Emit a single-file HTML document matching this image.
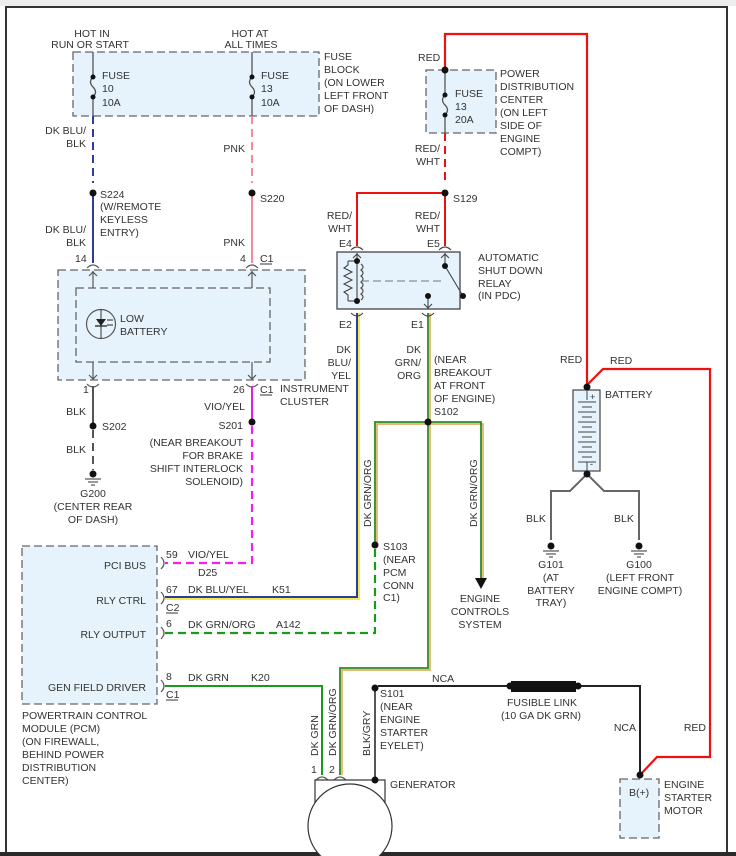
<!DOCTYPE html>
<html><head><meta charset="utf-8"><style>
html,body{margin:0;padding:0;background:#fff}
svg{display:block}
text{font-family:"Liberation Sans",sans-serif;font-size:10.5px;fill:#333}
.r{text-anchor:end}.m{text-anchor:middle}
</style></head><body>
<svg width="736" height="856" viewBox="0 0 736 856">
<rect x="0" y="0" width="736" height="856" fill="#fff"/>
<rect x="0" y="0" width="736" height="6" fill="#eee"/>
<rect x="6" y="7" width="721" height="850" fill="none" stroke="#333" stroke-width="2"/>
<rect x="0" y="852" width="736" height="4" fill="#2a2a2a"/>

<!-- fuse block -->
<rect x="73" y="52" width="246" height="64" fill="#e6f3fc" stroke="#666" stroke-dasharray="8,4" stroke-width="1.3"/>
<text class="m" x="92" y="37">HOT IN</text><text class="m" x="90" y="48">RUN OR START</text>
<text class="m" x="250" y="37">HOT AT</text><text class="m" x="251" y="48">ALL TIMES</text>
<g stroke="#555" stroke-width="1.3" fill="none">
<line x1="93" y1="52" x2="93" y2="77"/><line x1="93" y1="97" x2="93" y2="116"/>
<path d="M93 77 q-5 5 0 10 q5 5 0 10"/>
<line x1="252" y1="52" x2="252" y2="77"/><line x1="252" y1="97" x2="252" y2="116"/>
<path d="M252 77 q-5 5 0 10 q5 5 0 10"/>
</g>
<g fill="#111"><circle cx="93" cy="77" r="2.5"/><circle cx="93" cy="97" r="2.5"/><circle cx="252" cy="77" r="2.5"/><circle cx="252" cy="97" r="2.5"/></g>
<text x="102" y="79">FUSE</text><text x="102" y="92">10</text><text x="102" y="106">10A</text>
<text x="261" y="79">FUSE</text><text x="261" y="92">13</text><text x="261" y="106">10A</text>
<text x="324" y="60">FUSE</text><text x="324" y="73">BLOCK</text><text x="324" y="86">(ON LOWER</text><text x="324" y="99">LEFT FRONT</text><text x="324" y="112">OF DASH)</text>

<!-- left wires -->
<line x1="93" y1="116" x2="93" y2="183" stroke="#2a3f9a" stroke-width="2" stroke-dasharray="8,5"/>
<line x1="252" y1="116" x2="252" y2="183" stroke="#f28aa0" stroke-width="2" stroke-dasharray="8,5"/>
<line x1="93" y1="193" x2="93" y2="263" stroke="#2a3f9a" stroke-width="2"/>
<line x1="252" y1="193" x2="252" y2="263" stroke="#f28aa0" stroke-width="2"/>
<circle cx="93" cy="193" r="3.5" fill="#111"/><circle cx="252" cy="193" r="3.5" fill="#111"/>
<text class="r" x="86" y="134">DK BLU/</text><text class="r" x="86" y="147">BLK</text>
<text class="r" x="245" y="152">PNK</text>
<text x="100" y="198">S224</text><text x="100" y="210">(W/REMOTE</text><text x="100" y="223">KEYLESS</text><text x="100" y="236">ENTRY)</text>
<text x="260" y="202">S220</text>
<text class="r" x="86" y="233">DK BLU/</text><text class="r" x="86" y="246">BLK</text>
<text class="r" x="245" y="246">PNK</text>
<text x="75" y="262">14</text><text x="240" y="262">4</text><text x="260" y="262">C1</text>
<line x1="260" y1="264" x2="272" y2="264" stroke="#333"/>

<!-- instrument cluster -->
<rect x="58" y="270" width="247" height="110" fill="#e6f3fc" stroke="#666" stroke-dasharray="8,4" stroke-width="1.3"/>
<rect x="76" y="288" width="194" height="74" fill="none" stroke="#666" stroke-dasharray="8,4" stroke-width="1.3"/>
<g stroke="#555" stroke-width="1.2" fill="none">
<path d="M87 268 q6 -6 12 0"/><path d="M246 268 q6 -6 12 0"/>
<line x1="93" y1="271" x2="93" y2="288"/><path d="M89 276 l4 -4 l4 4"/>
<line x1="252" y1="271" x2="252" y2="288"/><path d="M248 276 l4 -4 l4 4"/>
<line x1="93" y1="362" x2="93" y2="380"/><path d="M89 375 l4 4 l4 -4"/>
<line x1="252" y1="362" x2="252" y2="380"/><path d="M248 375 l4 4 l4 -4"/>
<path d="M87 384 q6 6 12 0"/><path d="M246 384 q6 6 12 0"/>
<circle cx="101" cy="324" r="14.5"/>
<line x1="101" y1="310" x2="101" y2="338"/>
</g>
<path d="M96 319 h10 l-5 7 z" fill="#222"/><line x1="95" y1="326" x2="107" y2="326" stroke="#222" stroke-width="1.3"/>
<path d="M107 320 h6 M107 325 h6" stroke="#222" stroke-width="1"/>
<text x="120" y="322">LOW</text><text x="120" y="335">BATTERY</text>
<text x="83" y="393">1</text><text x="233" y="393">26</text><text x="260" y="393">C1</text>
<line x1="260" y1="395" x2="272" y2="395" stroke="#333"/>
<text x="280" y="392">INSTRUMENT</text><text x="280" y="405">CLUSTER</text>

<!-- BLK to G200 -->
<line x1="93" y1="386" x2="93" y2="426" stroke="#555" stroke-width="2"/>
<line x1="93" y1="430" x2="93" y2="470" stroke="#555" stroke-width="2" stroke-dasharray="8,5"/>
<circle cx="93" cy="426" r="3.5" fill="#111"/>
<text class="r" x="86" y="415">BLK</text><text x="102" y="430">S202</text><text class="r" x="86" y="453">BLK</text>
<circle cx="93" cy="474" r="3.5" fill="#111"/>
<g stroke="#333"><line x1="85" y1="479" x2="101" y2="479"/><line x1="88" y1="482" x2="98" y2="482"/><line x1="91" y1="485" x2="95" y2="485"/></g>
<text class="m" x="93" y="497">G200</text><text class="m" x="93" y="510">(CENTER REAR</text><text class="m" x="93" y="523">OF DASH)</text>

<!-- VIO/YEL -->
<line x1="252" y1="386" x2="252" y2="422" stroke="#e020e0" stroke-width="2"/>
<circle cx="252" cy="422" r="3.5" fill="#111"/>
<polyline points="252,426 252,563 165,563" fill="none" stroke="#f020f0" stroke-width="2.2" stroke-dasharray="8,5"/>
<text class="r" x="245" y="410">VIO/YEL</text>
<text class="r" x="243" y="429">S201</text>
<text class="r" x="243" y="446">(NEAR BREAKOUT</text><text class="r" x="243" y="459">FOR BRAKE</text><text class="r" x="243" y="472">SHIFT INTERLOCK</text><text class="r" x="243" y="485">SOLENOID)</text>

<!-- PCM -->
<rect x="22" y="546" width="135" height="158" fill="#e6f3fc" stroke="#666" stroke-dasharray="8,4" stroke-width="1.3"/>
<text class="r" x="146" y="569">PCI BUS</text><text class="r" x="146" y="604">RLY CTRL</text><text class="r" x="146" y="638">RLY OUTPUT</text><text class="r" x="146" y="691">GEN FIELD DRIVER</text>
<g stroke="#555" fill="none" stroke-width="1.2">
<path d="M161 557 q6 6 0 12"/><path d="M161 592 q6 6 0 12"/><path d="M161 627 q6 6 0 12"/><path d="M161 680 q6 6 0 12"/>
</g>
<text x="166" y="558">59</text><text x="188" y="558">VIO/YEL</text><text x="198" y="576">D25</text>
<text x="166" y="593">67</text><text x="188" y="593">DK BLU/YEL</text><text x="272" y="593">K51</text>
<text x="166" y="611">C2</text><line x1="166" y1="613" x2="178" y2="613" stroke="#333"/>
<text x="166" y="627">6</text><text x="188" y="628">DK GRN/ORG</text><text x="276" y="628">A142</text>
<text x="166" y="680">8</text><text x="188" y="681">DK GRN</text><text x="251" y="681">K20</text>
<text x="166" y="698">C1</text><line x1="166" y1="700" x2="178" y2="700" stroke="#333"/>
<text x="22" y="719">POWERTRAIN CONTROL</text><text x="22" y="732">MODULE (PCM)</text><text x="22" y="745">(ON FIREWALL,</text><text x="22" y="758">BEHIND POWER</text><text x="22" y="771">DISTRIBUTION</text><text x="22" y="784">CENTER)</text>

<!-- DK BLU/YEL from relay -->
<polyline points="359,313 359,599 165,599" fill="none" stroke="#f0e020" stroke-width="1.5"/>
<polyline points="357,313 357,597 165,597" fill="none" stroke="#2a3f9a" stroke-width="2"/>
<!-- green dashed RLY OUTPUT -->
<polyline points="375,549 375,633 165,633" fill="none" stroke="#1a9a1a" stroke-width="2.2" stroke-dasharray="8,5"/>
<!-- green K20 -->
<polyline points="165,686 322,686 322,775" fill="none" stroke="#1a9a1a" stroke-width="2"/>
<!-- DK GRN/ORG tree -->
<g fill="none" stroke="#e0a040" stroke-width="1.4">
<polyline points="430,313 430,670 342,670 342,775"/>
<polyline points="377,545 377,424 483,424 483,578"/>
</g>
<g fill="none" stroke="#2a8a2a" stroke-width="1.8">
<polyline points="428,313 428,668 340,668 340,775"/>
<polyline points="375,545 375,422 481,422 481,578"/>
</g>
<path d="M475 578 h12 l-6 11 z" fill="#111"/>
<circle cx="428" cy="422" r="3.5" fill="#111"/><circle cx="375" cy="545" r="3.5" fill="#111"/>
<text class="r" x="351" y="353">DK</text><text class="r" x="351" y="366">BLU/</text><text class="r" x="351" y="379">YEL</text>
<text class="r" x="421" y="353">DK</text><text class="r" x="421" y="366">GRN/</text><text class="r" x="421" y="379">ORG</text>
<text x="434" y="363">(NEAR</text><text x="434" y="376">BREAKOUT</text><text x="434" y="389">AT FRONT</text><text x="434" y="402">OF ENGINE)</text><text x="434" y="415">S102</text>
<text transform="translate(371,527) rotate(-90)">DK GRN/ORG</text>
<text transform="translate(477,527) rotate(-90)">DK GRN/ORG</text>
<text x="383" y="550">S103</text><text x="383" y="563">(NEAR</text><text x="383" y="576">PCM</text><text x="383" y="589">CONN</text><text x="383" y="601">C1)</text>
<text class="m" x="480" y="602">ENGINE</text><text class="m" x="480" y="615">CONTROLS</text><text class="m" x="480" y="628">SYSTEM</text>

<!-- generator -->
<text transform="translate(318,756) rotate(-90)">DK GRN</text>
<text transform="translate(336,756) rotate(-90)">DK GRN/ORG</text>
<text transform="translate(370,756) rotate(-90)">BLK/GRY</text>
<line x1="375" y1="688" x2="375" y2="780" stroke="#555" stroke-width="2"/>
<circle cx="375" cy="688" r="3.5" fill="#111"/>
<text x="311" y="773">1</text><text x="329" y="773">2</text>
<g stroke="#555" fill="none" stroke-width="1.2"><path d="M316 780 q6 -6 12 0"/><path d="M334 780 q6 -6 12 0"/></g>
<rect x="315" y="780" width="70" height="40" fill="#fff" stroke="#333" stroke-width="1.2"/>
<circle cx="350" cy="826" r="42" fill="#fff" stroke="#333" stroke-width="1.2"/>
<circle cx="375" cy="780" r="3.5" fill="#111"/>
<text x="390" y="788">GENERATOR</text>
<text x="380" y="697">S101</text><text x="380" y="710">(NEAR</text><text x="380" y="723">ENGINE</text><text x="380" y="736">STARTER</text><text x="380" y="749">EYELET)</text>

<!-- NCA / fusible link -->
<polyline points="378,686 510,686" stroke="#222" stroke-width="2" fill="none"/>
<polyline points="578,686 640,686 640,775" stroke="#222" stroke-width="2" fill="none"/>
<rect x="511" y="681" width="65" height="11" fill="#111"/>
<circle cx="510" cy="686" r="3.5" fill="#111"/><circle cx="578" cy="686" r="3.5" fill="#111"/>
<text x="432" y="682">NCA</text>
<text class="m" x="542" y="706">FUSIBLE LINK</text><text class="m" x="541" y="719">(10 GA DK GRN)</text>
<text class="r" x="636" y="731">NCA</text>

<!-- starter -->
<rect x="620" y="779" width="39" height="59" fill="#e6f3fc" stroke="#666" stroke-dasharray="8,4" stroke-width="1.3"/>
<text x="629" y="796">B(+)</text>
<text x="664" y="788">ENGINE</text><text x="664" y="801">STARTER</text><text x="664" y="814">MOTOR</text>
<polyline points="640,775 657,757 710,757 710,369 603,369 587,385" fill="none" stroke="#ee1111" stroke-width="2.2"/>
<circle cx="640" cy="775" r="3.5" fill="#111"/>
<text class="r" x="706" y="731">RED</text>
<text x="610" y="364">RED</text><text x="560" y="363">RED</text>

<!-- PDC -->
<polyline points="445,70 445,34 587,34 587,387" fill="none" stroke="#ee1111" stroke-width="2.2"/>
<rect x="426" y="70" width="70" height="63" fill="#e6f3fc" stroke="#666" stroke-dasharray="8,4" stroke-width="1.3"/>
<g stroke="#555" stroke-width="1.3" fill="none">
<line x1="445" y1="70" x2="445" y2="95"/><line x1="445" y1="115" x2="445" y2="133"/>
<path d="M445 95 q-5 5 0 10 q5 5 0 10"/>
</g>
<g fill="#111"><circle cx="445" cy="70" r="3.5"/><circle cx="445" cy="95" r="2.5"/><circle cx="445" cy="115" r="2.5"/></g>
<text x="418" y="61">RED</text>
<text x="455" y="97">FUSE</text><text x="455" y="110">13</text><text x="455" y="123">20A</text>
<text x="500" y="77">POWER</text><text x="500" y="90">DISTRIBUTION</text><text x="500" y="103">CENTER</text><text x="500" y="116">(ON LEFT</text><text x="500" y="129">SIDE OF</text><text x="500" y="142">ENGINE</text><text x="500" y="155">COMPT)</text>
<line x1="445" y1="133" x2="445" y2="183" stroke="#ee1111" stroke-width="2" stroke-dasharray="8,5"/>
<text class="r" x="440" y="152">RED/</text><text class="r" x="440" y="165">WHT</text>
<polyline points="443,193 357,193 357,246" fill="none" stroke="#ee1111" stroke-width="2"/>
<line x1="445" y1="193" x2="445" y2="246" stroke="#ee1111" stroke-width="2"/>
<circle cx="445" cy="193" r="3.5" fill="#111"/>
<text x="453" y="202">S129</text>
<text class="r" x="352" y="219">RED/</text><text class="r" x="352" y="232">WHT</text>
<text class="r" x="440" y="219">RED/</text><text class="r" x="440" y="232">WHT</text>
<text x="339" y="247">E4</text><text x="427" y="247">E5</text>

<!-- relay -->
<rect x="337" y="252" width="123" height="57" fill="#e6f3fc" stroke="#444" stroke-width="1.3"/>
<g stroke="#444" stroke-width="1.1" fill="none">
<path d="M351 250 q6 -6 12 0"/><path d="M439 250 q6 -6 12 0"/>
<path d="M351 313 q6 6 12 0"/><path d="M422 313 q6 6 12 0"/>
<line x1="357" y1="253" x2="357" y2="301"/><path d="M353 258 l4 -4 l4 4"/>
<line x1="357" y1="261" x2="348" y2="261"/><line x1="357" y1="301" x2="348" y2="301"/>
<path d="M348 261 v4 l-4 3 l8 4 l-8 4 l8 4 l-8 4 l8 4 l-8 4 l4 3 v6"/>
<path d="M361 264 q4 3 0 6 q4 3 0 6 q4 3 0 6 q4 3 0 6 q4 3 0 6 q4 3 0 6"/>
<line x1="361" y1="281" x2="445" y2="281" stroke-dasharray="8,4" stroke="#777"/>
<line x1="445" y1="253" x2="445" y2="266"/><path d="M441 258 l4 -4 l4 4"/>
<line x1="445" y1="266" x2="463" y2="296"/>
<line x1="428" y1="296" x2="428" y2="309"/><path d="M424 304 l4 4 l4 -4"/>
</g>
<g fill="#111"><circle cx="357" cy="261" r="3"/><circle cx="357" cy="301" r="3"/><circle cx="445" cy="266" r="3"/><circle cx="463" cy="296" r="3"/><circle cx="428" cy="296" r="3"/></g>
<text x="339" y="328">E2</text><text x="411" y="328">E1</text>
<text x="478" y="261">AUTOMATIC</text><text x="478" y="274">SHUT DOWN</text><text x="478" y="287">RELAY</text><text x="478" y="299">(IN PDC)</text>

<!-- battery -->
<rect x="573" y="390" width="27" height="81" fill="#e6f3fc" stroke="#444" stroke-width="1.2"/>
<circle cx="587" cy="387" r="3.5" fill="#111"/>
<text x="590" y="400" style="font-size:9px">+</text>
<text x="590" y="467" style="font-size:9px">-</text>
<g stroke="#444" stroke-width="1">
<line x1="587" y1="390" x2="587" y2="400"/>
<line x1="578" y1="402" x2="596" y2="402"/><line x1="582" y1="407" x2="592" y2="407"/>
<line x1="578" y1="412" x2="596" y2="412"/><line x1="582" y1="417" x2="592" y2="417"/>
<line x1="578" y1="422" x2="596" y2="422"/><line x1="582" y1="427" x2="592" y2="427"/>
<line x1="578" y1="432" x2="596" y2="432"/><line x1="582" y1="437" x2="592" y2="437"/>
<line x1="578" y1="442" x2="596" y2="442"/><line x1="582" y1="447" x2="592" y2="447"/>
<line x1="578" y1="452" x2="596" y2="452"/><line x1="582" y1="457" x2="592" y2="457"/>
<line x1="578" y1="462" x2="596" y2="462"/>
<line x1="587" y1="462" x2="587" y2="474"/>
</g>
<text x="605" y="398">BATTERY</text>
<polyline points="551,540 551,491 570,491 587,474 604,491 639,491 639,540" fill="none" stroke="#666" stroke-width="2"/>
<circle cx="587" cy="474" r="3.5" fill="#111"/>
<text x="526" y="522">BLK</text><text x="614" y="522">BLK</text>
<circle cx="551" cy="546" r="3.5" fill="#111"/><circle cx="639" cy="546" r="3.5" fill="#111"/>
<g stroke="#333"><line x1="543" y1="551" x2="559" y2="551"/><line x1="546" y1="554" x2="556" y2="554"/><line x1="549" y1="557" x2="553" y2="557"/>
<line x1="631" y1="551" x2="647" y2="551"/><line x1="634" y1="554" x2="644" y2="554"/><line x1="637" y1="557" x2="641" y2="557"/></g>
<text class="m" x="551" y="568">G101</text><text class="m" x="551" y="581">(AT</text><text class="m" x="551" y="594">BATTERY</text><text class="m" x="551" y="606">TRAY)</text>
<text class="m" x="639" y="568">G100</text><text class="m" x="640" y="581">(LEFT FRONT</text><text class="m" x="640" y="594">ENGINE COMPT)</text>
</svg>
</body></html>
